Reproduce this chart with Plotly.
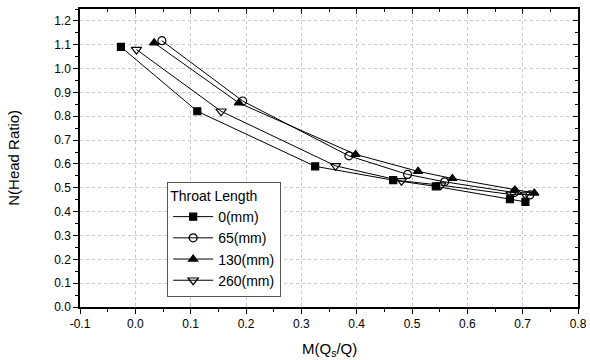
import plotly.graph_objects as go

names = ["0(mm)", "65(mm)", "130(mm)", "260(mm)"]
x0 = [-0.026, 0.112, 0.325, 0.466, 0.543, 0.677, 0.705]
y0 = [1.091, 0.821, 0.590, 0.532, 0.506, 0.452, 0.441]
x65 = [0.048, 0.194, 0.386, 0.492, 0.559, 0.685, 0.713]
y65 = [1.117, 0.864, 0.634, 0.556, 0.525, 0.480, 0.470]
x130 = [0.034, 0.187, 0.398, 0.511, 0.573, 0.686, 0.721]
y130 = [1.108, 0.856, 0.640, 0.569, 0.539, 0.491, 0.478]
x260 = [0.002, 0.155, 0.362, 0.481, 0.552, 0.679, 0.705]
y260 = [1.080, 0.821, 0.592, 0.529, 0.511, 0.472, 0.472]

x_ticks = [-0.1, 0.0, 0.1, 0.2, 0.3, 0.4, 0.5, 0.6, 0.7, 0.8]
x_ticktext = ["-0.1", "0.0", "0.1", "0.2", "0.3", "0.4", "0.5", "0.6", "0.7", "0.8"]
y_ticks = [0.0, 0.1, 0.2, 0.3, 0.4, 0.5, 0.6, 0.7, 0.8, 0.9, 1.0, 1.1, 1.2]

xs = [x0, x65, x130, x260]
ys = [y0, y65, y130, y260]
symbols = ["square", "circle-open", "triangle-up", "triangle-down-open"]
sizes = [7, 8, 8, 9]

fig = go.Figure()
for n, xv, yv, s, sz in zip(names, xs, ys, symbols, sizes):
    fig.add_trace(go.Scatter(
        x=xv, y=yv, name=n, mode="lines+markers",
        line=dict(color="black", width=1),
        marker=dict(symbol=s, size=sz, color="black",
                    line=dict(color="black", width=1.2)),
    ))

# invisible trace for mirrored inside-tick axes
fig.add_trace(go.Scatter(x=[-0.1], y=[0], xaxis="x2", yaxis="y2",
                         mode="markers", marker=dict(opacity=0),
                         showlegend=False, hoverinfo="skip"))

font = "Liberation Sans, Arial, sans-serif"
common = dict(showline=True, linecolor="black", linewidth=1.5,
              ticks="outside", ticklen=5, tickwidth=1.2, tickcolor="black",
              zeroline=False, showgrid=True, gridcolor="#c8c8c8",
              griddash="dot", gridwidth=1, automargin=False,
              minor=dict(ticks="outside", ticklen=3, tickcolor="black", showgrid=False),
              tickfont=dict(family=font, size=12, color="black"))

fig.update_layout(
    width=590, height=360,
    margin=dict(l=80, r=12, t=9, b=53),
    plot_bgcolor="white", paper_bgcolor="white",
    font=dict(family=font, color="black"),
    xaxis=dict(range=[-0.1, 0.8], tickvals=x_ticks, ticktext=x_ticktext,
               minor_dtick=0.05, **common),
    yaxis=dict(range=[0, 1.25], tickvals=y_ticks, tickformat=".1f",
               minor_dtick=0.05, **common),
    xaxis2=dict(overlaying="x", side="top", range=[-0.1, 0.8], dtick=0.1, tick0=0,
                showticklabels=False, ticks="inside", ticklen=5, tickcolor="black",
                showline=True, linecolor="black", linewidth=1.5, showgrid=False,
                zeroline=False, automargin=False,
                minor=dict(ticks="inside", ticklen=3, dtick=0.05)),
    yaxis2=dict(overlaying="y", side="right", range=[0, 1.25], dtick=0.1, tick0=0,
                showticklabels=False, ticks="inside", ticklen=5, tickcolor="black",
                showline=True, linecolor="black", linewidth=1.5, showgrid=False,
                zeroline=False, automargin=False,
                minor=dict(ticks="inside", ticklen=3, dtick=0.05)),
    legend=dict(x=0.175, y=0.42, xanchor="left", yanchor="top",
                title=dict(text="Throat Length", font=dict(size=14), side="top"),
                bordercolor="#555", borderwidth=1, bgcolor="white",
                font=dict(size=14, family=font), tracegroupgap=0,
                itemwidth=40),
    showlegend=True,
    annotations=[
        dict(text="M(Q<sub>s</sub>/Q)", xref="paper", yref="paper", x=0.5, y=-0.142,
             xanchor="center", yanchor="middle", showarrow=False,
             font=dict(size=15, family=font)),
        dict(text="N(Head Ratio)", xref="paper", yref="paper", x=-0.135, y=0.5,
             xanchor="center", yanchor="middle", showarrow=False, textangle=-90,
             font=dict(size=15, family=font)),
    ],
)

fig.write_html("out.html")
